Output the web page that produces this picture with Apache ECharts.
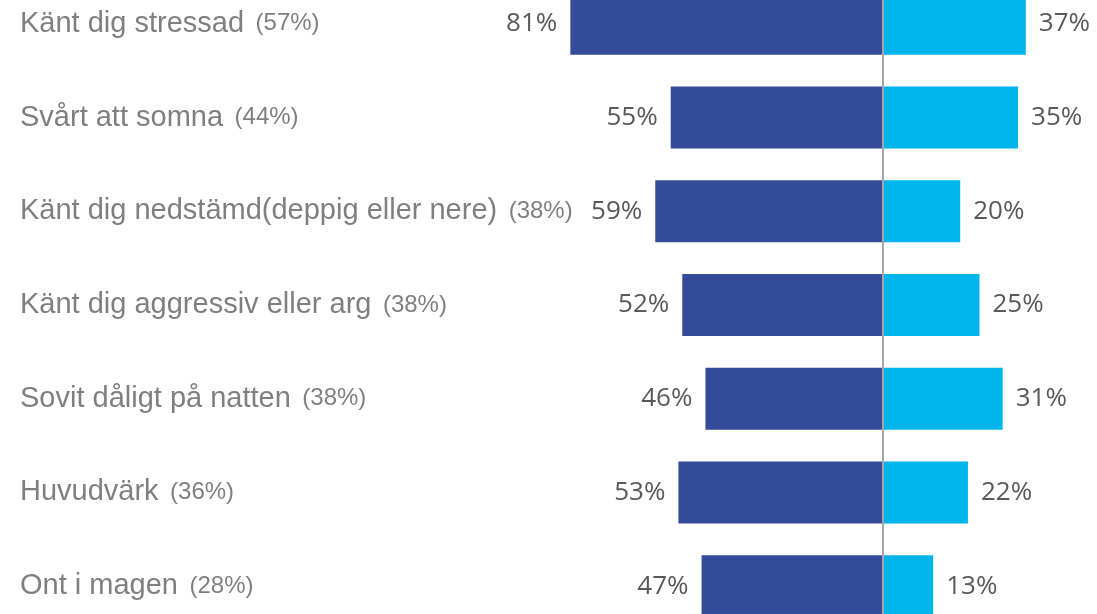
<!DOCTYPE html>
<html>
<head>
<meta charset="utf-8">
<script src="https://cdn.jsdelivr.net/npm/echarts@6/dist/echarts.min.js"></script>
<style>
  html, body { margin: 0; padding: 0; background: #fff; overflow: hidden; }
  #wrap { position: relative; width: 1097px; height: 614px; overflow: hidden; }
  /* the plot is cut off at top and bottom in the original */
  #chart { position: absolute; left: 0; top: -23px; width: 1097px; height: 656px; }
</style>
</head>
<body>
<div id="wrap"><div id="chart"></div></div>
<script>
const categories = [
  'Känt dig stressad',
  'Svårt att somna',
  'Känt dig nedstämd(deppig eller nere)',
  'Känt dig aggressiv eller arg',
  'Sovit dåligt på natten',
  'Huvudvärk',
  'Ont i magen'
];
const totals = [57, 44, 38, 38, 38, 36, 28];
const leftValues = [81, 55, 59, 52, 46, 53, 47];
const rightValues = [37, 35, 20, 25, 31, 22, 13];

const myChart = echarts.init(document.getElementById('chart'));

const valueLabel = {
  show: true,
  distance: 13,
  color: '#595959',
  fontFamily: 'Open Sans',
  fontSize: 26,
  formatter: p => Math.abs(p.value) + '%'
};

myChart.setOption({
  animation: false,
  grid: { left: 497, right: 21, top: 0, bottom: 0, containLabel: false },
  xAxis: {
    type: 'value',
    min: -100,
    max: 50,
    show: false
  },
  yAxis: {
    type: 'category',
    inverse: true,
    data: categories,
    axisLine: { show: false },
    axisTick: { show: false },
    axisLabel: {
      align: 'left',
      margin: 477,
      formatter: (v, i) => '{a|' + v + '}{b|\u00a0\u2009(' + totals[i] + '%)}',
      rich: {
        a: { fontFamily: 'Liberation Sans', fontSize: 29, color: '#7f7f7f' },
        b: { fontFamily: 'Liberation Sans', fontSize: 24, color: '#7f7f7f' }
      }
    }
  },
  series: [
    {
      name: 'vänster',
      type: 'bar',
      barWidth: 62,
      barGap: '-100%',
      data: leftValues.map(v => -v),
      itemStyle: { color: '#344b9a' },
      label: Object.assign({ position: 'left' }, valueLabel)
    },
    {
      name: 'höger',
      type: 'bar',
      barWidth: 62,
      data: rightValues,
      itemStyle: { color: '#00b4ec' },
      label: Object.assign({ position: 'right' }, valueLabel),
      markLine: {
        silent: true,
        symbol: 'none',
        label: { show: false },
        lineStyle: { color: '#a6a6a6', width: 2, type: 'solid' },
        data: [{ xAxis: 0 }],
        z: 10
      }
    }
  ]
});
</script>
</body>
</html>
